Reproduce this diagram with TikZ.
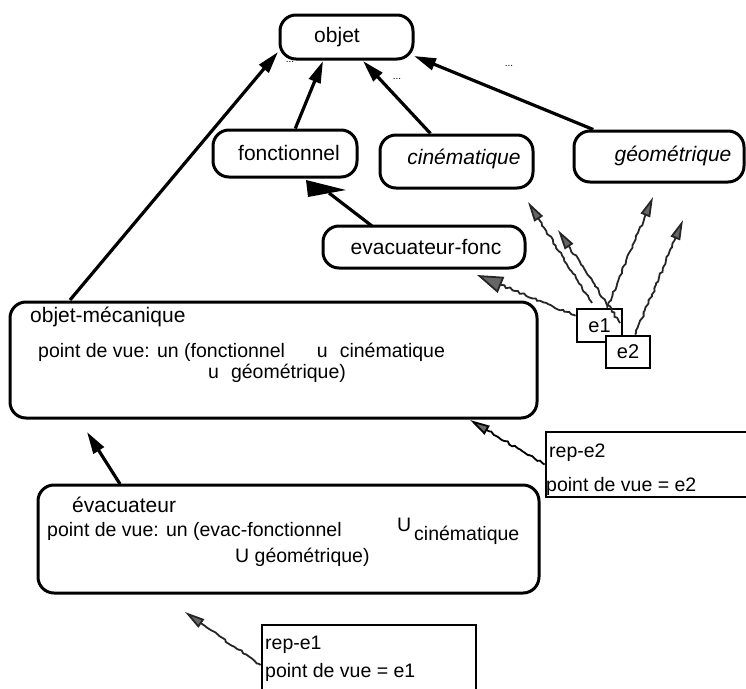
\documentclass[tikz,border=0pt]{standalone}
\usepackage{fontspec}
\setmainfont{Liberation Sans}
\usetikzlibrary{arrows.meta,decorations.pathmorphing}

\begin{document}
\begin{tikzpicture}[x=1pt,y=-1pt,
  box/.style={draw,line width=3pt,rounded corners=16pt,fill=white,inner sep=0pt},
  sqbox/.style={draw,line width=2.8pt,fill=white,inner sep=0pt},
  lbl/.style={font=\fontsize{21}{24}\selectfont,inner sep=0pt},
  ilbl/.style={font=\fontsize{21}{24}\selectfont\itshape,inner sep=0pt},
  body/.style={font=\fontsize{19.5}{22}\selectfont,inner sep=0pt,anchor=west},
  ttl/.style={font=\fontsize{21}{24}\selectfont,inner sep=0pt,anchor=west},
  dots/.style={font=\fontsize{10}{10}\selectfont,inner sep=0pt},
  arr/.style={line width=3.2pt,-{Triangle[length=22pt,width=12pt]}},
  garr/.style={draw=black!85,line width=1.8pt,decorate,
    decoration={random steps,segment length=3pt,amplitude=1.1pt,pre length=2pt,post length=22pt},
    -{Triangle[length=20pt,width=10pt,fill=black!60]}},
  bigarr/.style={draw=black!85,line width=1.8pt,decorate,
    decoration={random steps,segment length=3pt,amplitude=1.1pt,pre length=2pt,post length=26pt},
    -{Triangle[length=26pt,width=17pt,fill=black!60]}}
]
\pgfmathsetseed{7}
\useasboundingbox (0,0) rectangle (746,688);
\clip (0,0) rectangle (746,688);

% class boxes
\node[box,minimum width=133pt,minimum height=44pt] (objet) at (346.5,37) {};
\node[lbl] (objett) at (337,37) {objet};
\node[box,minimum width=144pt,minimum height=47pt] (fonc) at (285,153.5) {};
\node[lbl] (fonct) at (289,153) {fonctionnel};
\node[box,minimum width=153pt,minimum height=53pt] (cine) at (456.5,161.5) {};
\node[ilbl] (cinet) at (464,159) {cinématique};
\node[box,minimum width=170pt,minimum height=51pt] (geom) at (659,156.5) {};
\node[ilbl] (geomt) at (673,156) {géométrique};
\node[box,minimum width=202pt,minimum height=42pt] (evf) at (424,247) {};
\node[lbl] (evft) at (426,247) {evacuateur-fonc};

% objet-mécanique
\node[box,minimum width=527pt,minimum height=116pt] (om) at (273.5,360) {};
\node[ttl] (omt) at (30,317) {objet-mécanique};
\node[body] (oml1) at (38,352) {point de vue: un (fonctionnel\hspace{32pt}u\hspace{12pt}cinématique};
\node[body] (oml2) at (208,373) {u\hspace{12pt}géométrique)};

% évacuateur
\node[box,minimum width=501pt,minimum height=108pt] (ev) at (288.5,539) {};
\node[ttl] (evt) at (72,505) {évacuateur};
\node[body] (evl1) at (47,531) {point de vue: un (evac-fonctionnel};
\node[body] (evu) at (397,525) {U};
\node[body] (evc) at (414,535) {cinématique};
\node[body] (evl2) at (235,557) {U géométrique)};

% instance boxes
\node[sqbox,minimum width=45pt,minimum height=33pt,font=\fontsize{20}{22}\selectfont] (e1) at (599.5,325.5) {e1};
\node[sqbox,minimum width=44pt,minimum height=32pt,font=\fontsize{20}{22}\selectfont] (e2) at (628,352) {e2};

% viewpoint boxes
\node[body] (r2a) at (549,453) {rep-e2};
\node[body] (r2b) at (546,486) {point de vue = e2};
\node[sqbox,fill=none,minimum width=224pt,minimum height=65pt] (rep2) at (658,464.5) {};
\node[body] (r1a) at (265,645) {rep-e1};
\node[body] (r1b) at (265,672) {point de vue = e1};
\node[sqbox,fill=none,minimum width=214pt,minimum height=80pt] (rep1) at (369,665) {};

% ellipses
\node[dots] (d1) at (290,62) {...};
\node[dots] (d2) at (397,79) {...};
\node[dots] (d3) at (509,66) {...};

% ends of connectors
\coordinate (a1s) at (70,300);
\coordinate (a1e) at (278,52);
\coordinate (a2e) at (323,61);
\coordinate (a3e) at (363,61);
\coordinate (a4e) at (414,56);
\coordinate (a5s) at (372,226);
\coordinate (a5e) at (329,193);
\coordinate (a6s) at (120,484);
\coordinate (a6e) at (87,432);
\coordinate (g1s) at (592,303);
\coordinate (g1e) at (528,202);
\coordinate (g2s) at (620,323);
\coordinate (g2e) at (558,230);
\coordinate (g3e) at (653,197);
\coordinate (g4e) at (683,220);
\coordinate (g5e) at (477,275);
\coordinate (r2e) at (470,420);
\coordinate (r1e) at (185,612);

% inheritance links
\draw[arr] (a1s) -- (a1e);
\draw[arr] (fonc) -- (a2e);
\draw[arr] (cine) -- (a3e);
\draw[arr] (geom) -- (a4e);
\draw[arr] (a6s) -- (a6e);
\draw[line width=3.2pt] (a5s) -- (a5e);
\fill (306,180) -- (308,197) -- (346,190) -- cycle;

% instance links
\draw[garr] (g1s) -- (g1e);
\draw[garr] (g2s) -- (g2e);
\draw[garr] (e1) -- (g3e);
\draw[garr] (e2) -- (g4e);
\draw[bigarr] (e1) -- (g5e);
\draw[garr,draw=black] (rep2.west) -- (r2e);
\draw[garr] (rep1.west) -- (r1e);
\end{tikzpicture}
\end{document}
